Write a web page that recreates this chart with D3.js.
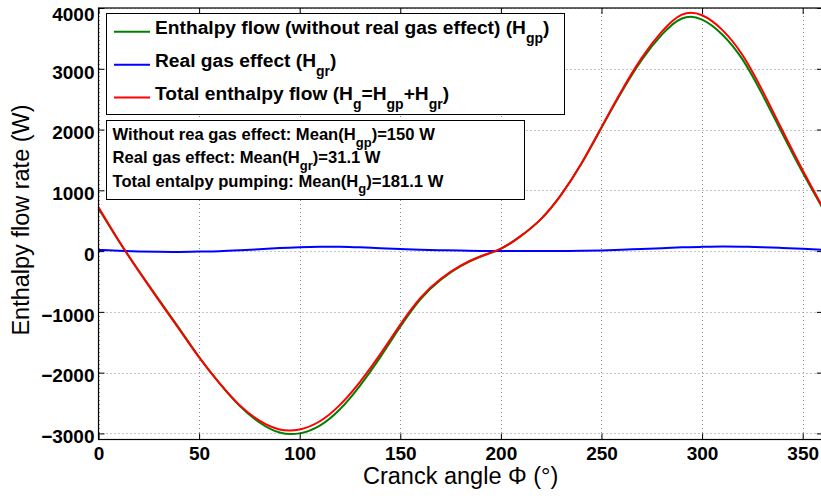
<!DOCTYPE html>
<html>
<head>
<meta charset="utf-8">
<script src="https://cdn.jsdelivr.net/npm/d3@7"></script>
<style>
  html, body { margin: 0; padding: 0; background: #fff; }
  svg { display: block; }
  text { font-family: "Liberation Sans", Arial, Helvetica, sans-serif; }
</style>
</head>
<body>
<svg id="chart" width="821" height="498"></svg>
<script>
// ---------------- data ----------------
const angles = [0,10,20,30,40,50,60,70,80,90,100,110,120,130,140,150,160,170,180,
                190,200,210,220,230,240,250,260,270,280,290,300,310,320,330,340,350,360];
// Enthalpy flow without real gas effect (H_gp)
const hgp = [700,170,-324,-798,-1267,-1742,-2168,-2542,-2820,-2985,-2999,-2872,-2602,-2212,
             -1748,-1245,-793,-474,-248,-88,39,250,530,929,1436,2029,2618,3145,3562,3828,
             3810,3565,3158,2575,1928,1293,700];
// Real gas effect (H_gr)
const hgr = [20,5,-6,-12,-13,-8,-2,12,30,50,64,72,72,62,48,35,23,14,8,3,1,0,0,1,4,11,22,
             35,48,62,70,75,72,65,52,37,20];
// Total enthalpy flow (H_g)
const hg = [720,175,-330,-810,-1280,-1750,-2170,-2530,-2790,-2935,-2935,-2800,-2530,-2150,
            -1700,-1210,-770,-460,-240,-85,40,250,530,930,1440,2040,2640,3180,3610,3890,
            3880,3640,3230,2640,1980,1330,720];
const xTicks = [0,50,100,150,200,250,300,350];
const yTicks = [-3000,-2000,-1000,0,1000,2000,3000,4000];
const xDomain = [0,360];
const yDomain = [-3100,4000];

const legendItems = [
  {color:"#008000", parts:[["Enthalpy flow (without real gas effect) (H",0],["gp",1],[")",0]]},
  {color:"#0000ff", parts:[["Real gas effect (H",0],["gr",1],[")",0]]},
  {color:"#ff0000", parts:[["Total enthalpy flow (H",0],["g",1],["=H",0],["gp",1],["+H",0],["gr",1],[")",0]]}
];
const noteLines = [
  [["Without rea gas effect: Mean(H",0],["gp",1],[")=150 W",0]],
  [["Real gas effect: Mean(H",0],["gr",1],[")=31.1 W",0]],
  [["Total entalpy pumping: Mean(H",0],["g",1],[")=181.1 W",0]]
];

// ---------------- layout ----------------
const L = 98.5, R = 822.8, T = 8, B = 439.5;
const svg = d3.select("#chart");
const x = d3.scaleLinear().domain(xDomain).range([L, R]);
const y = d3.scaleLinear().domain(yDomain).range([B, T]);

svg.append("rect").attr("width", 821).attr("height", 498).attr("fill", "#fff");

// grid
const grid = svg.append("g").attr("stroke", "#8a8a8a").attr("stroke-width", 1)
  .attr("stroke-dasharray", "1,3");
grid.selectAll("line.gx").data(xTicks).join("line")
  .attr("x1", d => Math.round(x(d)) + 0.5).attr("x2", d => Math.round(x(d)) + 0.5)
  .attr("y1", T).attr("y2", B);
grid.selectAll("line.gy").data(yTicks).join("line")
  .attr("y1", d => Math.round(y(d)) + 0.5).attr("y2", d => Math.round(y(d)) + 0.5)
  .attr("x1", L).attr("x2", R);

// curves
const line = arr => d3.line()
  .x((d, i) => x(angles[i]))
  .y(d => y(d))
  .curve(d3.curveNatural)(arr);
const series = [
  {data: hgp, color: "#008000"},
  {data: hgr, color: "#0000ff"},
  {data: hg,  color: "#ff0000"}
];
svg.append("g").selectAll("path").data(series).join("path")
  .attr("d", d => line(d.data))
  .attr("fill", "none")
  .attr("stroke", d => d.color)
  .attr("stroke-width", 2);

// axes (ticks pointing inward)
function styleAxis(g) {
  g.select(".domain").remove();
  g.selectAll(".tick line").attr("stroke", "#000").attr("stroke-width", 1);
}
const axB = svg.append("g").attr("transform", `translate(0,${B})`)
  .call(d3.axisBottom(x).tickValues(xTicks).tickSize(-6).tickFormat(d3.format("d")))
  .call(styleAxis);
axB.selectAll("text").attr("dy", null).attr("y", 20.5)
  .style("font-size", "19px").style("font-weight", "bold").attr("fill", "#000");
svg.append("g").attr("transform", `translate(0,${T})`)
  .call(d3.axisTop(x).tickValues(xTicks).tickSize(-6).tickFormat(""))
  .call(styleAxis);
const axL = svg.append("g").attr("transform", `translate(${L},0)`)
  .call(d3.axisLeft(y).tickValues(yTicks).tickSize(-6).tickFormat(d => d < 0 ? "\u2212" + Math.abs(d) : d))
  .call(styleAxis);
axL.selectAll("text").attr("x", -4).attr("dy", "0.38em")
  .style("font-size", "19px").style("font-weight", "bold").attr("fill", "#000");
axL.selectAll(".tick text").attr("y", d => Math.max(2, 13.5 - y(d)));
svg.append("g").attr("transform", `translate(${R},0)`)
  .call(d3.axisRight(y).tickValues(yTicks).tickSize(-6).tickFormat(""))
  .call(styleAxis);

// axes box
svg.append("rect").attr("x", L).attr("y", T).attr("width", R - L).attr("height", B - T)
  .attr("fill", "none").attr("stroke", "#000").attr("stroke-width", 1.2);

// axis labels
svg.append("text").attr("x", (L + R) / 2).attr("y", 484)
  .attr("text-anchor", "middle").style("font-size", "23.5px").attr("fill", "#000")
  .text("Cranck angle \u03A6 (\u00B0)");
svg.append("text").attr("transform", "translate(29,220) rotate(-90)")
  .attr("text-anchor", "middle").style("font-size", "23.5px").attr("fill", "#000")
  .text("Enthalpy flow rate (W)");

function richText(sel, parts, size, subSize, shift) {
  let down = false;
  parts.forEach(([s, sub]) => {
    const t = sel.append("tspan").text(s);
    if (sub) {
      t.style("font-size", subSize + "px").attr("dy", down ? 0 : shift);
      down = true;
    } else {
      t.style("font-size", size + "px").attr("dy", down ? -shift : 0);
      down = false;
    }
  });
}

// legend
const leg = svg.append("g");
leg.append("rect").attr("x", 106.5).attr("y", 13.5).attr("width", 458).attr("height", 101)
  .attr("fill", "#fff").attr("stroke", "#000").attr("stroke-width", 1);
const rowY = [34.3, 67.2, 100];
legendItems.forEach((it, i) => {
  leg.append("line").attr("x1", 114).attr("x2", 150)
    .attr("y1", rowY[i] - 2.5).attr("y2", rowY[i] - 2.5)
    .attr("stroke", it.color).attr("stroke-width", 2);
  const t = leg.append("text").attr("x", 155).attr("y", rowY[i])
    .style("font-weight", "bold").attr("fill", "#000");
  richText(t, it.parts, 19.2, 14, 9);
});

// annotation box
const note = svg.append("g");
note.append("rect").attr("x", 106.5).attr("y", 120.5).attr("width", 418).attr("height", 79)
  .attr("fill", "#fff").attr("stroke", "#000").attr("stroke-width", 1);
const noteY = [140, 163.3, 186.7];
noteLines.forEach((parts, i) => {
  const t = note.append("text").attr("x", 112.5).attr("y", noteY[i])
    .style("font-weight", "bold").attr("fill", "#000");
  richText(t, parts, 16.6, 13, 6.5);
});
</script>
</body>
</html>
